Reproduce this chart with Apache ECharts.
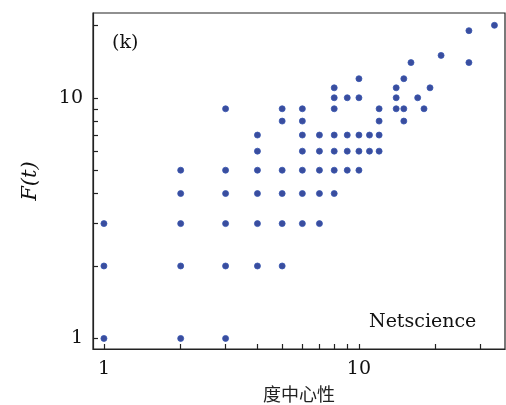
<!DOCTYPE html>
<html>
<head>
<meta charset="utf-8">
<script src="https://cdn.jsdelivr.net/npm/echarts@6/dist/echarts.min.js"></script>
<style>
  html, body { margin: 0; padding: 0; background: #fff; }
  #chart { width: 506px; height: 405px; }
</style>
</head>
<body>
<div id="chart"></div>
<script>
// 度中心性 (x) 与 F(t) (y)，一一对应
var degreeCentrality = [
    1, 1, 1,
    2, 2, 2, 2, 2,
    3, 3, 3, 3, 3, 3,
    4, 4, 4, 4, 4, 4,
    5, 5, 5, 5, 5, 5,
    6, 6, 6, 6, 6, 6, 6,
    7, 7, 7, 7, 7,
    8, 8, 8, 8, 8, 8, 8,
    9, 9, 9, 9,
    10, 10, 10, 10, 10,
    11, 11,
    12, 12, 12, 12,
    14, 14, 14,
    15, 15, 15,
    16, 17, 18, 19, 21,
    27, 27,
    34
];
var spreadF = [
    1, 2, 3,
    1, 2, 3, 4, 5,
    1, 2, 3, 4, 5, 9,
    2, 3, 4, 5, 6, 7,
    2, 3, 4, 5, 8, 9,
    3, 4, 5, 6, 7, 8, 9,
    3, 4, 5, 6, 7,
    4, 5, 6, 7, 9, 10, 11,
    5, 6, 7, 10,
    5, 6, 7, 10, 12,
    6, 7,
    6, 7, 8, 9,
    9, 10, 11,
    8, 9, 12,
    14, 10, 9, 11, 15,
    14, 19,
    20
];
var xTicks = [1, 2, 3, 4, 5, 6, 7, 8, 9, 10, 20, 30];
var yTicks = [1, 2, 3, 4, 5, 6, 7, 8, 9, 10, 20];
var axisLabels = [1, 10];
var xRange = [0.906, 37.4];
var yRange = [0.904, 22.5];

var points = [];
for (var i = 0; i < degreeCentrality.length; i++) {
    points.push([degreeCentrality[i], spreadF[i]]);
}

// 对数轴的自定义刻度不好用，叠一根不显示的线性轴(log10 空间)只画刻度
function log10List(arr) {
    return arr.map(function (v) { return Math.log10(v); });
}

var serif = '"DejaVu Serif", "Liberation Serif", serif';
var tickStyle = { color: '#222', width: 1.2 };
var chart = echarts.init(document.getElementById('chart'));

chart.setOption({
    animation: false,
    backgroundColor: '#fff',
    title: [
        {
            text: '(k)',
            left: 107, top: 29,
            textStyle: { fontFamily: serif, fontWeight: 'normal', fontSize: 19, color: '#111' }
        },
        {
            text: 'Netscience',
            left: 364, top: 308,
            textStyle: { fontFamily: serif, fontWeight: 'normal', fontSize: 19, color: '#111' }
        }
    ],
    grid: {
        left: 93, top: 13, right: 1, bottom: 56,
        outerBoundsMode: 'none',
        containLabel: false,
        show: true,
        borderColor: '#222',
        borderWidth: 1.2
    },
    xAxis: [
        {
            type: 'log',
            min: xRange[0],
            max: xRange[1],
            name: '度中心性',
            nameLocation: 'middle',
            nameGap: 36,
            nameTextStyle: { fontFamily: '"Noto Sans CJK SC"', fontSize: 18, color: '#222' },
            axisLine: { onZero: false, lineStyle: { color: '#222', width: 1.2 } },
            axisTick: { show: false },
            axisLabel: { customValues: axisLabels, margin: 11, fontFamily: serif, fontSize: 19, color: '#111' },
            splitLine: { show: false }
        },
        {
            type: 'value',
            position: 'bottom',
            min: Math.log10(xRange[0]),
            max: Math.log10(xRange[1]),
            axisLine: { show: false, onZero: false },
            axisLabel: { show: false },
            axisTick: { show: true, inside: true, length: 5, customValues: log10List(xTicks), lineStyle: tickStyle },
            splitLine: { show: false }
        }
    ],
    yAxis: [
        {
            type: 'log',
            min: yRange[0],
            max: yRange[1],
            name: 'F(t)',
            nameLocation: 'middle',
            nameGap: 52,
            nameRotate: 90,
            nameTextStyle: { fontFamily: serif, fontStyle: 'italic', fontSize: 21, color: '#111' },
            axisLine: { onZero: false, lineStyle: { color: '#222', width: 1.2 } },
            axisTick: { show: false },
            axisLabel: { customValues: axisLabels, margin: 10, fontFamily: serif, fontSize: 19, color: '#111' },
            splitLine: { show: false }
        },
        {
            type: 'value',
            position: 'left',
            min: Math.log10(yRange[0]),
            max: Math.log10(yRange[1]),
            axisLine: { show: false, onZero: false },
            axisLabel: { show: false },
            axisTick: { show: true, inside: true, length: 5, customValues: log10List(yTicks), lineStyle: tickStyle },
            splitLine: { show: false }
        }
    ],
    series: [
        {
            type: 'scatter',
            xAxisIndex: 0,
            yAxisIndex: 0,
            data: points,
            symbol: 'circle',
            symbolSize: 6,
            itemStyle: { color: '#3a4d9e', borderColor: '#3656b0', borderWidth: 0.8, opacity: 1 }
        }
    ]
});
</script>
</body>
</html>
